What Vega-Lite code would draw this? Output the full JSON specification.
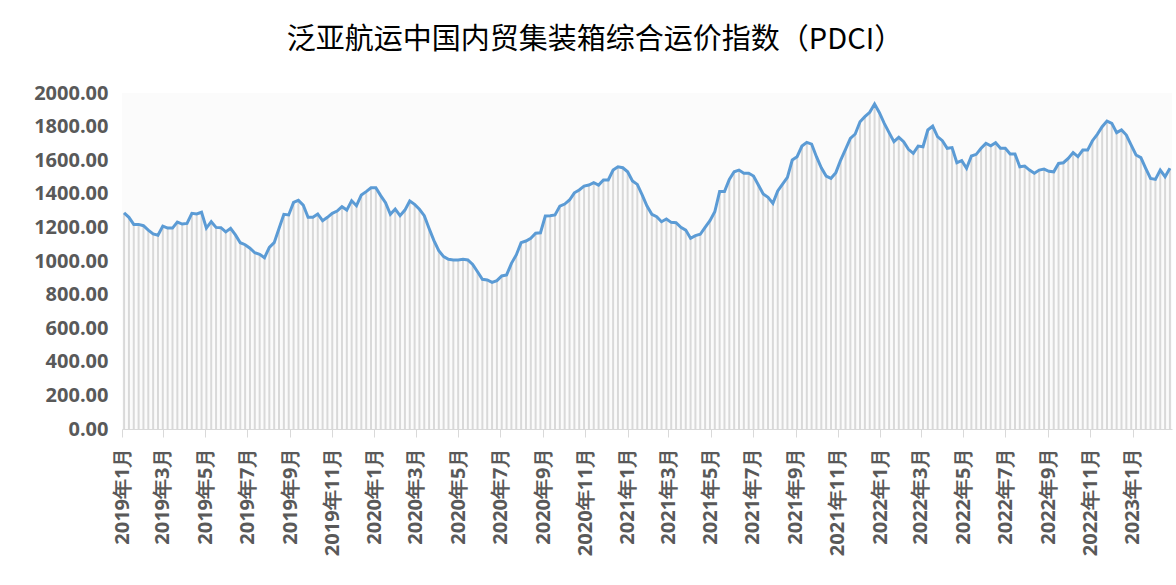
{
"$schema": "https://vega.github.io/schema/vega-lite/v6.json",
"width": 1050, "height": 336,
"autosize": {"type": "none"},
"padding": {"left": 122, "top": 93, "right": 4, "bottom": 156},
"background": "white",
"title": {"text": "泛亚航运中国内贸集装箱综合运价指数（PDCI）", "font": "Noto Sans CJK SC", "fontSize": 29, "fontWeight": "normal", "color": "#000000", "anchor": "middle", "dx": -52, "offset": 28},
"config": {"view": {"stroke": null, "fill": "#fbfbfb"}},
"data": {"values": [
{"d":"2019-01-04","v":1287},{"d":"2019-01-11","v":1260},{"d":"2019-01-18","v":1218},{"d":"2019-01-25","v":1218},
{"d":"2019-02-01","v":1210},{"d":"2019-02-08","v":1184},{"d":"2019-02-15","v":1161},{"d":"2019-02-22","v":1153},
{"d":"2019-03-01","v":1208},{"d":"2019-03-08","v":1196},{"d":"2019-03-15","v":1196},{"d":"2019-03-22","v":1232},{"d":"2019-03-29","v":1220},
{"d":"2019-04-05","v":1224},{"d":"2019-04-12","v":1284},{"d":"2019-04-19","v":1280},{"d":"2019-04-26","v":1290},
{"d":"2019-05-03","v":1196},{"d":"2019-05-10","v":1234},{"d":"2019-05-17","v":1200},{"d":"2019-05-24","v":1198},{"d":"2019-05-31","v":1173},
{"d":"2019-06-07","v":1194},{"d":"2019-06-14","v":1155},{"d":"2019-06-21","v":1109},{"d":"2019-06-28","v":1097},
{"d":"2019-07-05","v":1076},{"d":"2019-07-12","v":1049},{"d":"2019-07-19","v":1040},{"d":"2019-07-26","v":1020},
{"d":"2019-08-02","v":1081},{"d":"2019-08-09","v":1109},{"d":"2019-08-16","v":1194},{"d":"2019-08-23","v":1278},{"d":"2019-08-30","v":1274},
{"d":"2019-09-06","v":1349},{"d":"2019-09-13","v":1361},{"d":"2019-09-20","v":1333},{"d":"2019-09-27","v":1260},
{"d":"2019-10-04","v":1260},{"d":"2019-10-11","v":1280},{"d":"2019-10-18","v":1240},{"d":"2019-10-25","v":1260},
{"d":"2019-11-01","v":1284},{"d":"2019-11-08","v":1297},{"d":"2019-11-15","v":1323},{"d":"2019-11-22","v":1303},{"d":"2019-11-29","v":1359},
{"d":"2019-12-06","v":1329},{"d":"2019-12-13","v":1393},{"d":"2019-12-20","v":1413},{"d":"2019-12-27","v":1436},
{"d":"2020-01-03","v":1436},{"d":"2020-01-10","v":1389},{"d":"2020-01-17","v":1347},{"d":"2020-01-24","v":1278},{"d":"2020-01-31","v":1309},
{"d":"2020-02-07","v":1270},{"d":"2020-02-14","v":1303},{"d":"2020-02-21","v":1357},{"d":"2020-02-28","v":1337},
{"d":"2020-03-06","v":1308},{"d":"2020-03-13","v":1270},{"d":"2020-03-20","v":1194},{"d":"2020-03-27","v":1121},
{"d":"2020-04-03","v":1061},{"d":"2020-04-10","v":1026},{"d":"2020-04-17","v":1010},{"d":"2020-04-24","v":1006},
{"d":"2020-05-01","v":1006},{"d":"2020-05-08","v":1010},{"d":"2020-05-15","v":1006},{"d":"2020-05-22","v":980},{"d":"2020-05-29","v":936},
{"d":"2020-06-05","v":891},{"d":"2020-06-12","v":887},{"d":"2020-06-19","v":873},{"d":"2020-06-26","v":883},
{"d":"2020-07-03","v":911},{"d":"2020-07-10","v":917},{"d":"2020-07-17","v":986},{"d":"2020-07-24","v":1036},{"d":"2020-07-31","v":1109},
{"d":"2020-08-07","v":1119},{"d":"2020-08-14","v":1135},{"d":"2020-08-21","v":1165},{"d":"2020-08-28","v":1168},
{"d":"2020-09-04","v":1268},{"d":"2020-09-11","v":1270},{"d":"2020-09-18","v":1274},{"d":"2020-09-25","v":1327},
{"d":"2020-10-02","v":1339},{"d":"2020-10-09","v":1363},{"d":"2020-10-16","v":1406},{"d":"2020-10-23","v":1423},{"d":"2020-10-30","v":1446},
{"d":"2020-11-06","v":1452},{"d":"2020-11-13","v":1466},{"d":"2020-11-20","v":1452},{"d":"2020-11-27","v":1482},
{"d":"2020-12-04","v":1482},{"d":"2020-12-11","v":1541},{"d":"2020-12-18","v":1561},{"d":"2020-12-25","v":1555},
{"d":"2021-01-01","v":1531},{"d":"2021-01-08","v":1476},{"d":"2021-01-15","v":1456},{"d":"2021-01-22","v":1393},{"d":"2021-01-29","v":1327},
{"d":"2021-02-05","v":1278},{"d":"2021-02-12","v":1264},{"d":"2021-02-19","v":1234},{"d":"2021-02-26","v":1250},
{"d":"2021-03-05","v":1230},{"d":"2021-03-12","v":1228},{"d":"2021-03-19","v":1200},{"d":"2021-03-26","v":1184},
{"d":"2021-04-02","v":1135},{"d":"2021-04-09","v":1151},{"d":"2021-04-16","v":1159},{"d":"2021-04-23","v":1200},{"d":"2021-04-30","v":1240},
{"d":"2021-05-07","v":1293},{"d":"2021-05-14","v":1413},{"d":"2021-05-21","v":1413},{"d":"2021-05-28","v":1486},
{"d":"2021-06-04","v":1531},{"d":"2021-06-11","v":1541},{"d":"2021-06-18","v":1522},{"d":"2021-06-25","v":1522},
{"d":"2021-07-02","v":1506},{"d":"2021-07-09","v":1452},{"d":"2021-07-16","v":1399},{"d":"2021-07-23","v":1379},{"d":"2021-07-30","v":1343},
{"d":"2021-08-06","v":1417},{"d":"2021-08-13","v":1458},{"d":"2021-08-20","v":1498},{"d":"2021-08-27","v":1601},
{"d":"2021-09-03","v":1621},{"d":"2021-09-10","v":1684},{"d":"2021-09-17","v":1706},{"d":"2021-09-24","v":1696},
{"d":"2021-10-01","v":1621},{"d":"2021-10-08","v":1555},{"d":"2021-10-15","v":1506},{"d":"2021-10-22","v":1492},{"d":"2021-10-29","v":1526},
{"d":"2021-11-05","v":1601},{"d":"2021-11-12","v":1665},{"d":"2021-11-19","v":1730},{"d":"2021-11-26","v":1756},
{"d":"2021-12-03","v":1829},{"d":"2021-12-10","v":1859},{"d":"2021-12-17","v":1885},{"d":"2021-12-24","v":1934},{"d":"2021-12-31","v":1883},
{"d":"2022-01-07","v":1819},{"d":"2022-01-14","v":1764},{"d":"2022-01-21","v":1710},{"d":"2022-01-28","v":1736},
{"d":"2022-02-04","v":1710},{"d":"2022-02-11","v":1665},{"d":"2022-02-18","v":1641},{"d":"2022-02-25","v":1684},
{"d":"2022-03-04","v":1680},{"d":"2022-03-11","v":1780},{"d":"2022-03-18","v":1803},{"d":"2022-03-25","v":1740},
{"d":"2022-04-01","v":1716},{"d":"2022-04-08","v":1671},{"d":"2022-04-15","v":1675},{"d":"2022-04-22","v":1585},{"d":"2022-04-29","v":1597},
{"d":"2022-05-06","v":1552},{"d":"2022-05-13","v":1625},{"d":"2022-05-20","v":1635},{"d":"2022-05-27","v":1671},
{"d":"2022-06-03","v":1700},{"d":"2022-06-10","v":1686},{"d":"2022-06-17","v":1704},{"d":"2022-06-24","v":1671},
{"d":"2022-07-01","v":1671},{"d":"2022-07-08","v":1637},{"d":"2022-07-15","v":1637},{"d":"2022-07-22","v":1561},{"d":"2022-07-29","v":1565},
{"d":"2022-08-05","v":1541},{"d":"2022-08-12","v":1522},{"d":"2022-08-19","v":1541},{"d":"2022-08-26","v":1547},
{"d":"2022-09-02","v":1534},{"d":"2022-09-09","v":1531},{"d":"2022-09-16","v":1581},{"d":"2022-09-23","v":1585},{"d":"2022-09-30","v":1611},
{"d":"2022-10-07","v":1645},{"d":"2022-10-14","v":1621},{"d":"2022-10-21","v":1660},{"d":"2022-10-28","v":1660},
{"d":"2022-11-04","v":1716},{"d":"2022-11-11","v":1754},{"d":"2022-11-18","v":1799},{"d":"2022-11-25","v":1833},
{"d":"2022-12-02","v":1819},{"d":"2022-12-09","v":1764},{"d":"2022-12-16","v":1780},{"d":"2022-12-23","v":1750},{"d":"2022-12-30","v":1690},
{"d":"2023-01-06","v":1631},{"d":"2023-01-13","v":1615},{"d":"2023-01-20","v":1552},{"d":"2023-01-27","v":1492},
{"d":"2023-02-03","v":1486},{"d":"2023-02-10","v":1541},{"d":"2023-02-17","v":1502},{"d":"2023-02-24","v":1552}
]},
"encoding": {
  "x": {"field": "d", "type": "temporal",
    "scale": {"type": "utc", "domain": [1546300800000, 1677456000000], "nice": false, "padding": 0},
    "axis": {"title": null, "labelExpr": "utcFormat(datum.value, '%Y年%-m月')", "tickCount": {"interval": "month", "step": 2},
      "labelAngle": -90, "labelFont": "Open Sans", "labelFontSize": 20, "labelFontWeight": "bold", "labelColor": "#595959",
      "domainColor": "#d9d9d9", "tickColor": "#d9d9d9", "tickSize": 8, "labelPadding": 10, "grid": false,
      "labelOverlap": false, "labelFlush": false}},
  "y": {"field": "v", "type": "quantitative", "scale": {"domain": [0, 2000], "nice": false, "padding": 0},
     "axis": {"title": null, "format": ".2f", "values": [0,200,400,600,800,1000,1200,1400,1600,1800,2000],
       "labelFont": "Open Sans", "labelFontSize": 20, "labelFontWeight": "bold", "labelColor": "#595959",
       "domain": false, "ticks": false, "grid": false, "labelPadding": 14, "labelOverlap": false}}
},
"layer": [
  {"mark": {"type": "bar", "size": 2, "color": "#d9d9d9"}},
  {"mark": {"type": "line", "color": "#5b9bd5", "strokeWidth": 3}}
]
}
